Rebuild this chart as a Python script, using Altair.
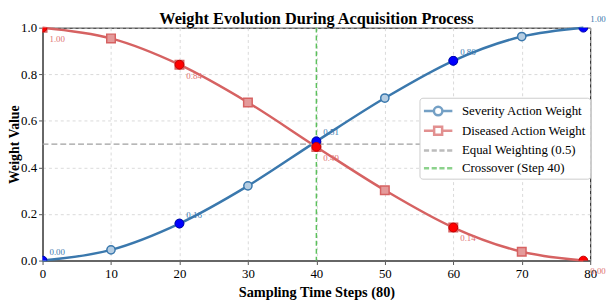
import altair as alt
import pandas as pd

# ---- data ----
chart_title = ["Weight Evolution During Acquisition Process"]
steps = [0, 10, 20, 30, 40, 50, 60, 70, 79]
severity = [0.00, 0.046, 0.159, 0.321, 0.512, 0.698, 0.858, 0.962, 1.00]
diseased = [1.00, 0.954, 0.841, 0.679, 0.488, 0.302, 0.142, 0.038, 0.00]
marker_steps = [0, 10, 20, 30, 40, 50, 60, 70]

hl_steps = [0, 20, 40, 60, 79]
hl_severity = [0.00, 0.159, 0.512, 0.858, 1.00]
hl_diseased = [1.00, 0.841, 0.488, 0.142, 0.00]
hl_sev_labels = ["0.00", "0.16", "0.51", "0.86", "1.00"]
hl_dis_labels = ["1.00", "0.84", "0.49", "0.14", "0.00"]

equal_level = [0.5]
crossover_step = [40]

legend_labels = ["Severity Action Weight", "Diseased Action Weight",
                 "Equal Weighting (0.5)", "Crossover (Step 40)"]
x_ticks = [0, 10, 20, 30, 40, 50, 60, 70, 80]
y_ticks = [0.0, 0.2, 0.4, 0.6, 0.8, 1.0]

BLUE = "#3a78ad"
RED = "#d66262"
GRAY = "#a0a0a0"
GREEN = "#5cc05c"
FONT = "Liberation Serif"
W, H = 555, 236

sev_df = pd.DataFrame({"step": steps, "value": severity})
dis_df = pd.DataFrame({"step": steps, "value": diseased})
sev_mk = sev_df[sev_df["step"].isin(marker_steps)]
dis_mk = dis_df[dis_df["step"].isin(marker_steps)]
hl_sev = pd.DataFrame({"step": hl_steps, "value": hl_severity, "label": hl_sev_labels})
hl_dis = pd.DataFrame({"step": hl_steps, "value": hl_diseased, "label": hl_dis_labels})
h_df = pd.DataFrame({"value": equal_level})
v_df = pd.DataFrame({"step": crossover_step})
leg_df = pd.DataFrame({"series": legend_labels})
title_df = pd.DataFrame({"title": chart_title})

x_scale = alt.Scale(domain=[0, 80], nice=False, zero=False)
y_scale = alt.Scale(domain=[0, 1], nice=False)

x_axis = alt.Axis(values=x_ticks, title="Sampling Time Steps (80)", format="d",
                  labelFlush=False)
y_axis = alt.Axis(values=y_ticks, title="Weight Value", format=".1f",
                  labelFlush=False, titleX=-21)

x_enc = alt.X("step:Q", scale=x_scale, axis=x_axis)
y_enc = alt.Y("value:Q", scale=y_scale, axis=y_axis)

sev_line = alt.Chart(sev_df).mark_line(color=BLUE, strokeWidth=2.5,
                                       interpolate="monotone").encode(x=x_enc, y=y_enc)
dis_line = alt.Chart(dis_df).mark_line(color=RED, strokeWidth=2.5,
                                       interpolate="monotone").encode(x=x_enc, y=y_enc)

sev_pts = alt.Chart(sev_mk).mark_point(shape="circle", size=70, filled=True,
                                       fill="#b5cde2", stroke=BLUE, strokeWidth=1.5,
                                       opacity=1, clip=True).encode(x=x_enc, y=y_enc)
dis_pts = alt.Chart(dis_mk).mark_point(shape="square", size=75, filled=True,
                                       fill="#e49a9a", stroke=RED, strokeWidth=1.5,
                                       opacity=1, clip=True).encode(x=x_enc, y=y_enc)

h_rule = alt.Chart(h_df).mark_rule(color=GRAY, strokeWidth=1.5,
                                   strokeDash=[6, 3]).encode(y=y_enc)
v_rule = alt.Chart(v_df).mark_rule(color=GREEN, strokeWidth=1.5,
                                   strokeDash=[5, 3]).encode(x=x_enc)

hl_sev_pts = alt.Chart(hl_sev).mark_point(shape="circle", size=80, filled=True,
                                          fill="#0000ff", stroke="#0000b0", strokeWidth=1,
                                          opacity=1, clip=True).encode(x=x_enc, y=y_enc)
hl_dis_pts = alt.Chart(hl_dis).mark_point(shape="circle", size=80, filled=True,
                                          fill="#ff0000", stroke="#c00000", strokeWidth=1,
                                          opacity=1, clip=True).encode(x=x_enc, y=y_enc)

sev_txt = alt.Chart(hl_sev).mark_text(align="left", baseline="middle", dx=7, dy=-9,
                                      fontSize=9, font=FONT, color=BLUE).encode(
    x=x_enc, y=y_enc, text="label:N")
dis_txt = alt.Chart(hl_dis).mark_text(align="left", baseline="middle", dx=7, dy=11,
                                      fontSize=9, font=FONT, color="#e07070").encode(
    x=x_enc, y=y_enc, text="label:N")

title_txt = alt.Chart(title_df).mark_text(
    align="center", baseline="alphabetic", fontSize=16.5, fontWeight="bold",
    font=FONT, color="black").encode(
    x=alt.value(W / 2), y=alt.value(-3.6), text="title:N")

# legend symbols: unit = 9 px (symbolSize 324), drawn from -1 to 2.2 units
leg_paths = [
    "M-1,0L0.12,0M1.08,0L2.2,0M0.12,0A0.48,0.48 0 1,0 1.08,0A0.48,0.48 0 1,0 0.12,0Z",
    "M-1,0L0.15,0M1.05,0L2.2,0M0.15,-0.45L1.05,-0.45L1.05,0.45L0.15,0.45Z",
    "M-1,0L-0.42,0M-0.13,0L0.45,0M0.74,0L1.32,0M1.61,0L2.19,0",
    "M-1,0L-0.42,0M-0.13,0L0.45,0M0.74,0L1.32,0M1.61,0L2.19,0",
]
leg = alt.Legend(title=None, orient="none", legendX=382, legendY=71,
                 labelFont=FONT, labelFontSize=13, labelColor="black",
                 symbolSize=324, symbolStrokeWidth=2.5,
                 padding=3, rowPadding=-0.7, labelOffset=19,
                 fillColor="white", strokeColor="#cccccc", cornerRadius=3)
legend_layer = alt.Chart(leg_df).transform_filter("false").mark_point(
    filled=False, strokeWidth=2.5).encode(
    color=alt.Color("series:N",
                    scale=alt.Scale(domain=legend_labels, range=[BLUE, RED, GRAY, GREEN]),
                    legend=leg),
    shape=alt.Shape("series:N",
                    scale=alt.Scale(domain=legend_labels, range=leg_paths),
                    legend=leg),
)

chart = alt.layer(
    sev_line, dis_line, sev_pts, dis_pts, h_rule, v_rule,
    hl_sev_pts, hl_dis_pts, sev_txt, dis_txt, title_txt, legend_layer,
).properties(
    width=W, height=H,
    autosize="none",
    padding={"left": 35, "top": 18, "right": 16, "bottom": 38},
).configure_view(
    stroke="black", strokeWidth=1
).configure_axis(
    domainColor="#666666", domainWidth=2,
    tickColor="#555555", tickSize=4, tickWidth=1,
    labelFont=FONT, labelFontSize=13, labelColor="black", labelPadding=2,
    titleFont=FONT, titleFontSize=14, titleFontWeight="bold", titleColor="black",
    grid=True, gridColor="#d0d0d0", gridDash=[3, 3], gridWidth=0.8,
).configure_axisX(titlePadding=5, titleFontSize=14.5, labelPadding=3)

chart.save("out.html", embed_options={"renderer": "svg", "actions": False})
